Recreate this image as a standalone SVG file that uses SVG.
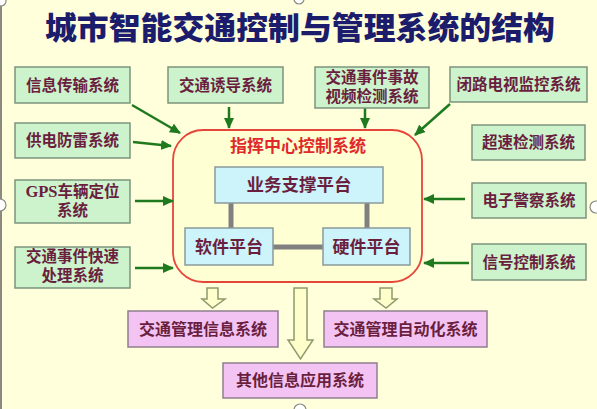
<svg xmlns="http://www.w3.org/2000/svg" width="597" height="409" viewBox="0 0 597 409">
<style>
.t{font-family:"Noto Sans CJK SC","Liberation Sans",sans-serif;font-weight:bold;fill:#6b1f3f;text-anchor:middle}
.g{fill:#ccf3cc;stroke:#7c957c;stroke-width:1.5}
.c{fill:#cdf3fb;stroke:#8a9a9a;stroke-width:1.5}
.p{fill:#f3c4f3;stroke:#8f7f8f;stroke-width:1.5}
.a{stroke:#1f7a1f;stroke-width:2.5;fill:none;marker-end:url(#ah)}
.h{fill:#ffffcc;stroke:#8e9a6a;stroke-width:1.5}
.k{stroke:#808080;stroke-width:5;fill:none}
.hd{fill:#fff;stroke:#888;stroke-width:1.2}
</style>
<defs>
<marker id="ah" markerUnits="userSpaceOnUse" markerWidth="12" markerHeight="10" refX="10" refY="5" orient="auto">
<path d="M0,0 L11,5 L0,10 Z" fill="#1f7a1f"/>
</marker>
</defs>
<rect width="597" height="409" fill="#ffffdc"/>
<line x1="1" y1="6" x2="1" y2="409" stroke="#8a8a80" stroke-width="2"/>
<text x="300" y="39" font-family="'Noto Sans CJK SC',sans-serif" font-weight="900" font-size="31" fill="#1c1c6c" text-anchor="middle" textLength="510" lengthAdjust="spacingAndGlyphs">城市智能交通控制与管理系统的结构</text>

<g id="center">
<rect x="173" y="130" width="249" height="152" rx="30" fill="#ffffd4" stroke="#e8453a" stroke-width="1.8"/>
<text x="298" y="152" font-family="'Noto Sans CJK SC',sans-serif" font-weight="bold" font-size="17" fill="#e02a2a" text-anchor="middle">指挥中心控制系统</text>
</g>

<g id="connectors">
<path class="k" d="M231,203 V228 M367,203 V228 M273,247 H323"/>
<path class="a" d="M132,105 L180,133"/>
<path class="a" d="M229,107 V128"/>
<path class="a" d="M133,142 L171,146"/>
<path class="a" d="M365,108 V128"/>
<path class="a" d="M450,104 L415,135"/>
<path class="a" d="M135,201 H173"/>
<path class="a" d="M135,268 H173"/>
<path class="a" d="M465,199 H424"/>
<path class="a" d="M469,263 H424"/>
<path class="h" d="M207,288 H218 V299 H225 L212.5,308 L202,299 H207 Z"/>
<path class="h" d="M380,288 H392 V299 H397 L386,308 L374,299 H380 Z"/>
<path class="h" d="M294,288 H307 V340 H313 L300.5,359 L288,340 H294 Z"/>
</g>

<g id="biz"><rect class="c" x="215" y="167" width="168" height="36"/><text class="t" x="299" y="191" font-size="17.5">业务支撑平台</text></g>
<g id="soft"><rect class="c" x="185" y="228" width="88" height="37"/><text class="t" x="229" y="252.5" font-size="17">软件平台</text></g>
<g id="hard"><rect class="c" x="323" y="228" width="87" height="37"/><text class="t" x="366.5" y="252.5" font-size="17">硬件平台</text></g>

<g id="n1"><rect class="g" x="15" y="67" width="115" height="36"/><text class="t" x="72.5" y="90.5" font-size="15.5">信息传输系统</text></g>
<g id="n2"><rect class="g" x="168" y="67" width="115" height="36"/><text class="t" x="225.5" y="90.5" font-size="15.5">交通诱导系统</text></g>
<g id="n3"><rect class="g" x="315" y="67" width="114" height="41"/><text class="t" x="372" y="83" font-size="15.5">交通事件事故</text><text class="t" x="372" y="101.5" font-size="15.5">视频检测系统</text></g>
<g id="n4"><rect class="g" x="450" y="67" width="137" height="35"/><text class="t" x="518.5" y="90" font-size="15.5">闭路电视监控系统</text></g>
<g id="n5"><rect class="g" x="15" y="123" width="115" height="35"/><text class="t" x="72.5" y="146" font-size="15.5">供电防雷系统</text></g>
<g id="n6"><rect class="g" x="472" y="125" width="113" height="35"/><text class="t" x="528.5" y="148" font-size="15.5">超速检测系统</text></g>
<g id="n7"><rect class="g" x="15" y="180" width="115" height="43"/><text class="t" x="72.5" y="197" font-size="15.5"><tspan font-family="'Liberation Serif',serif" font-size="16.5">GPS</tspan>车辆定位</text><text class="t" x="72.5" y="215.5" font-size="15.5">系统</text></g>
<g id="n8"><rect class="g" x="15" y="247" width="115" height="41"/><text class="t" x="72.5" y="262" font-size="15.5">交通事件快速</text><text class="t" x="72.5" y="280.5" font-size="15.5">处理系统</text></g>
<g id="n9"><rect class="g" x="472" y="183" width="114" height="35"/><text class="t" x="529" y="206" font-size="15.5">电子警察系统</text></g>
<g id="n10"><rect class="g" x="472" y="244" width="114" height="36"/><text class="t" x="529" y="267.5" font-size="15.5">信号控制系统</text></g>

<g id="m1"><rect class="p" x="128" y="311" width="150" height="36"/><text class="t" x="203" y="334.5" font-size="16">交通管理信息系统</text></g>
<g id="m2"><rect class="p" x="324" y="311" width="163" height="36"/><text class="t" x="405.5" y="334.5" font-size="16">交通管理自动化系统</text></g>
<g id="m3"><rect class="p" x="223" y="363" width="154" height="35"/><text class="t" x="300" y="386" font-size="16">其他信息应用系统</text></g>

<circle class="hd" cx="0" cy="205" r="6"/>
<circle class="hd" cx="596" cy="207" r="6"/>
<circle class="hd" cx="299" cy="-1" r="5"/>
<circle class="hd" cx="300" cy="410" r="6"/>
<circle class="hd" cx="1" cy="1" r="5"/>
</svg>
